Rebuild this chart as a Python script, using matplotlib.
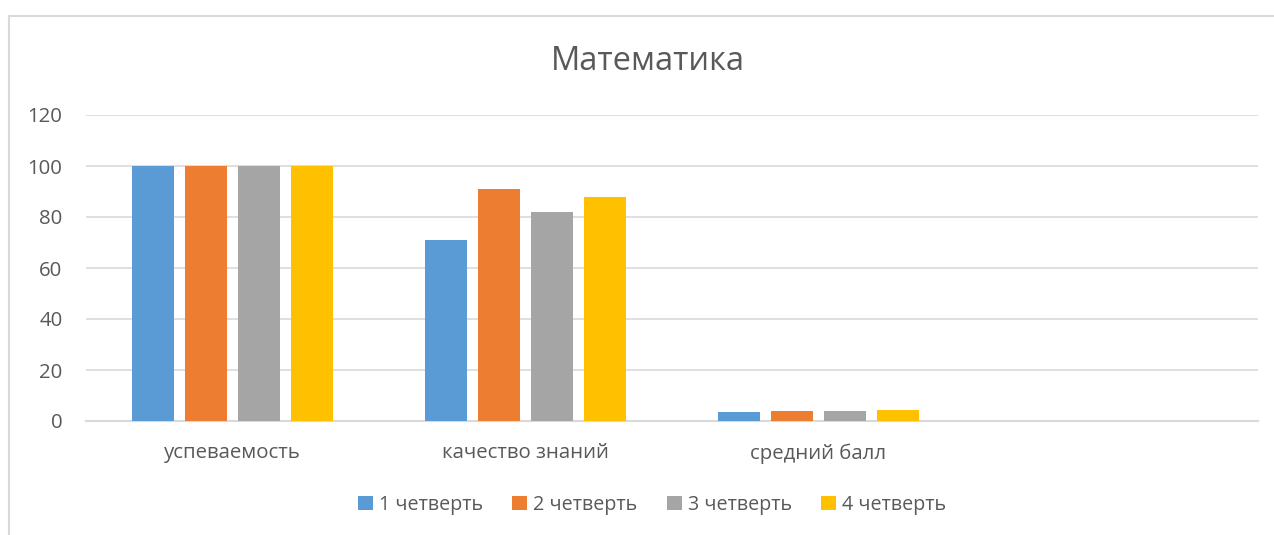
import numpy as np
import matplotlib
matplotlib.use("Agg")
import matplotlib.pyplot as plt
from matplotlib.patches import Rectangle

plt.rcParams['font.family'] = ['Open Sans', 'DejaVu Sans']

# data
categories = ["успеваемость", "качество знаний", "средний балл", ""]
series_names = ["1 четверть", "2 четверть", "3 четверть", "4 четверть"]
q1 = [100, 71, 3.6, 0]
q2 = [100, 91, 4.0, 0]
q3 = [100, 82, 3.9, 0]
q4 = [100, 88, 4.3, 0]
colors = ["#5B9BD5", "#ED7D31", "#A5A5A5", "#FFC000"]
yticks = [0, 20, 40, 60, 80, 100, 120]

text_col = "#595959"
grid_col = "#D9D9D9"

fig = plt.figure(figsize=(12.74, 5.35), dpi=100)
# chart border (cut off on right and bottom like the original)
fig.patches.append(Rectangle((9 / 1274, -0.1), 1.2, 1 - 16 / 535 + 0.1,
                             transform=fig.transFigure, fill=False,
                             edgecolor=grid_col, lw=1.5))

ax = fig.add_axes([86 / 1274, 1 - 421 / 535, (1258 - 86) / 1274, 306 / 535])

x = np.arange(len(categories))
width = 42 / 293
step = 53.2 / 293
for i, (vals, name) in enumerate(zip([q1, q2, q3, q4], series_names)):
    ax.bar(x + (i - 1.5) * step, vals, width, color=colors[i], label=name, zorder=3)

ax.set_xlim(-0.5, len(categories) - 0.5)
ax.set_ylim(0, 120)
ax.set_yticks(yticks)
ax.set_xticks(x)
ax.set_xticklabels(categories)
ax.tick_params(length=0, labelsize=14.7, colors=text_col)
ax.tick_params(axis='y', pad=17)
ax.tick_params(axis='x', pad=16)
ax.grid(axis='y', color=grid_col, lw=1.2, zorder=0)
for s in ['top', 'right', 'left']:
    ax.spines[s].set_visible(False)
ax.spines['bottom'].set_color(grid_col)
ax.spines['bottom'].set_linewidth(1.5)

fig.text(648 / 1274, 1 - 61 / 535, "Математика", ha='center', va='center',
         fontsize=23.5, color=text_col)

fig.legend(loc='center', bbox_to_anchor=(652 / 1274, 1 - 505 / 535), ncol=4,
           frameon=False, fontsize=14.2, labelcolor=text_col,
           handlelength=0.75, handleheight=0.75, handletextpad=0.3, columnspacing=1.5)

fig.savefig("out.png", dpi=100)
